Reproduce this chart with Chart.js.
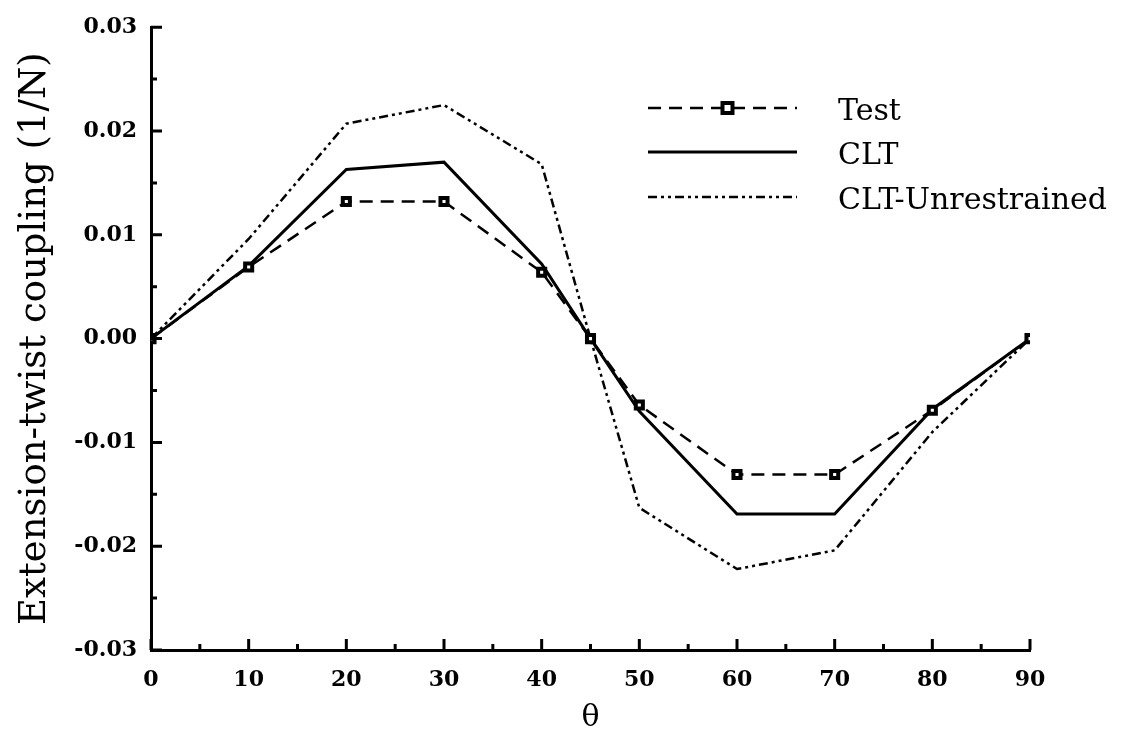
<!DOCTYPE html>
<html lang="en">
<head>
    <meta charset="UTF-8">
    <title>Extension-twist coupling</title>
    <script src="https://cdn.jsdelivr.net/npm/chart.js"></script>
    <style>
        html, body { margin: 0; padding: 0; background: #fff; }
        #wrap { width: 1138px; height: 736px; }
    </style>
</head>
<body>
    <div id="wrap"><canvas id="chart"></canvas></div>

    <script>
        // values
        const theta = [0, 10, 20, 30, 40, 45, 50, 60, 70, 80, 90];
        const test = [0, 0.0069, 0.0132, 0.0132, 0.0064, 0, -0.0064, -0.0131, -0.0131, -0.0069, 0];
        const clt = [0, 0.0070, 0.0163, 0.0170, 0.0072, 0, -0.0070, -0.0169, -0.0169, -0.0068, 0];
        const unrestrained = [0, 0.0096, 0.0207, 0.0225, 0.0168, 0, -0.0163, -0.0222, -0.0204, -0.0090, 0];
        const xMinorTicks = [5, 15, 25, 35, 45, 55, 65, 75, 85];
        const yMinorTicks = [-0.025, -0.015, -0.005, 0.005, 0.015, 0.025];

        const pts = ys => theta.map((t, i) => ({ x: t, y: ys[i] }));
        const serif = '"DejaVu Serif", "Liberation Serif", serif';

        // ticks drawn inside the plot, like the original
        const innerTicks = {
            id: 'innerTicks',
            afterDraw(chart) {
                const { ctx, chartArea: a, scales: { x, y } } = chart;
                ctx.save();
                ctx.strokeStyle = '#000';
                ctx.lineWidth = 3;
                ctx.beginPath();
                x.ticks.forEach(t => {
                    const px = x.getPixelForValue(t.value);
                    ctx.moveTo(px, a.bottom); ctx.lineTo(px, a.bottom - 11);
                });
                xMinorTicks.forEach(v => {
                    const px = x.getPixelForValue(v);
                    ctx.moveTo(px, a.bottom); ctx.lineTo(px, a.bottom - 6);
                });
                y.ticks.forEach(t => {
                    const py = y.getPixelForValue(t.value);
                    ctx.moveTo(a.left, py); ctx.lineTo(a.left + 11, py);
                });
                yMinorTicks.forEach(v => {
                    const py = y.getPixelForValue(v);
                    ctx.moveTo(a.left, py); ctx.lineTo(a.left + 6, py);
                });
                ctx.stroke();
                ctx.restore();
            }
        };

        // legend placed inside the plot area, upper right
        const insideLegend = {
            id: 'insideLegend',
            afterDraw(chart) {
                const ctx = chart.ctx;
                const x0 = 648, x1 = 797, tx = 838;
                const rows = [108, 152, 197];
                ctx.save();
                chart.data.datasets.forEach((ds, i) => {
                    const yy = rows[i];
                    ctx.strokeStyle = ds.borderColor;
                    ctx.lineWidth = ds.borderWidth;
                    ctx.setLineDash(ds.borderDash || []);
                    ctx.beginPath();
                    ctx.moveTo(x0, yy); ctx.lineTo(x1, yy);
                    ctx.stroke();
                    ctx.setLineDash([]);
                    if (ds.pointRadius > 0) {
                        const r = ds.pointRadius, m = (x0 + x1) / 2 + 5;
                        ctx.fillStyle = ds.pointBackgroundColor;
                        ctx.lineWidth = ds.pointBorderWidth;
                        ctx.fillRect(m - r, yy - r, 2 * r, 2 * r);
                        ctx.strokeRect(m - r, yy - r, 2 * r, 2 * r);
                    }
                    ctx.fillStyle = '#000';
                    ctx.font = '30px ' + serif;
                    ctx.textBaseline = 'middle';
                    ctx.fillText(ds.label, tx, yy + 4);
                });
                ctx.restore();
            }
        };

        new Chart(document.getElementById('chart'), {
            type: 'line',
            data: {
                datasets: [{
                    label: 'Test',
                    data: pts(test),
                    borderColor: '#000',
                    borderWidth: 2.5,
                    borderDash: [13, 8],
                    pointStyle: 'rect',
                    pointRadius: 5,
                    pointBorderWidth: 4,
                    pointBackgroundColor: '#fff',
                    pointBorderColor: '#000',
                    tension: 0
                }, {
                    label: 'CLT',
                    data: pts(clt),
                    borderColor: '#000',
                    borderWidth: 3,
                    pointRadius: 0,
                    tension: 0
                }, {
                    label: 'CLT-Unrestrained',
                    data: pts(unrestrained),
                    borderColor: '#000',
                    borderWidth: 2.5,
                    borderDash: [9, 4, 3, 4, 3, 4],
                    pointRadius: 0,
                    tension: 0
                }]
            },
            options: {
                responsive: true,
                maintainAspectRatio: false,
                animation: false,
                layout: { padding: { top: 25, right: 108, left: 13, bottom: 0 } },
                plugins: { legend: { display: false }, tooltip: { enabled: false } },
                scales: {
                    x: {
                        type: 'linear',
                        min: 0, max: 90,
                        ticks: { stepSize: 10, color: '#000', font: { family: serif, size: 22, weight: 'bold' }, padding: 17 },
                        grid: { drawOnChartArea: false, drawTicks: false },
                        border: { color: '#000', width: 3 },
                        title: { display: true, text: 'θ', color: '#000', font: { family: serif, size: 30 }, padding: 0 },
                        afterFit: s => { s.height = 86; }
                    },
                    y: {
                        min: -0.03, max: 0.03,
                        ticks: {
                            stepSize: 0.01, color: '#000', font: { family: serif, size: 22, weight: 'bold' }, padding: 14,
                            callback: v => v.toFixed(2)
                        },
                        grid: { drawOnChartArea: false, drawTicks: false },
                        border: { color: '#000', width: 3 },
                        title: { display: true, text: 'Extension-twist coupling (1/N)', color: '#000', font: { family: serif, size: 37 }, padding: 0 },
                        afterFit: s => { s.width = 138; }
                    }
                }
            },
            plugins: [innerTicks, insideLegend]
        });
    </script>
</body>
</html>
